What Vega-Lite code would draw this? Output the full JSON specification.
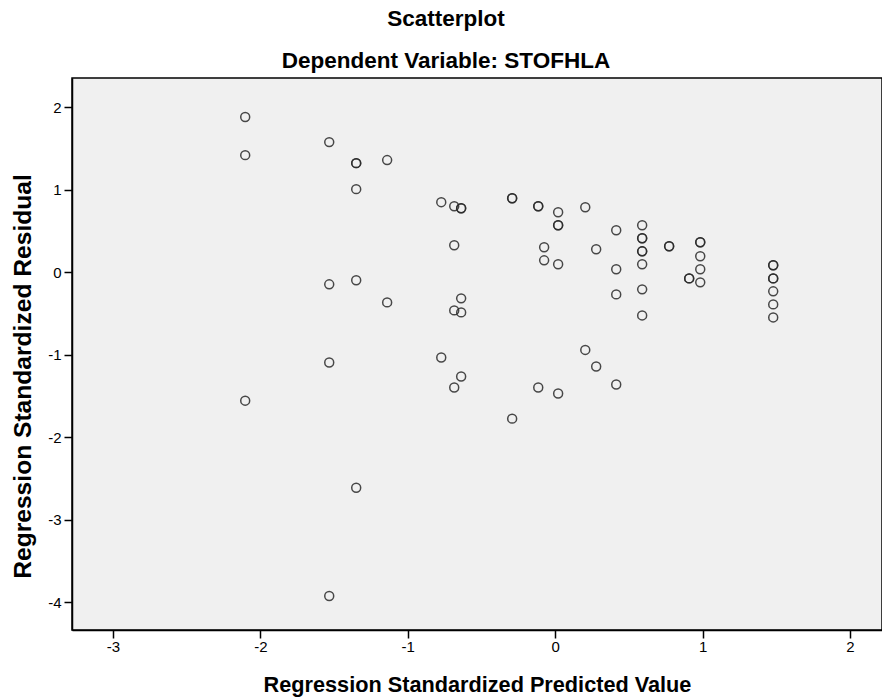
{
  "$schema": "https://vega.github.io/schema/vega-lite/v6.json",
  "width": 810,
  "height": 552,
  "autosize": {"type": "none"},
  "padding": {"left": 72, "top": 78, "right": 0, "bottom": 70},
  "background": "#ffffff",
  "title": {
    "text": "Scatterplot",
    "subtitle": "Dependent Variable: STOFHLA",
    "anchor": "middle",
    "dx": -31,
    "offset": 6,
    "font": "Liberation Sans, Arial",
    "fontSize": 22.5,
    "fontWeight": "bold",
    "color": "#000000",
    "subtitleFont": "Liberation Sans, Arial",
    "subtitleFontSize": 22.5,
    "subtitleFontWeight": "bold",
    "subtitleColor": "#000000",
    "subtitlePadding": 19
  },
  "config": {
    "view": {"fill": "#f0f0f0", "stroke": "#000000", "strokeWidth": 1.5},
    "axis": {
      "grid": false,
      "domainColor": "#000000",
      "domainWidth": 1.5,
      "tickColor": "#000000",
      "tickSize": 8,
      "tickWidth": 1.5,
      "labelColor": "#000000",
      "labelFont": "Liberation Sans, Arial",
      "labelFontSize": 15,
      "labelExpr": "datum.value < 0 ? '-' + abs(datum.value) : '' + datum.value",
      "titleColor": "#000000",
      "titleFont": "Liberation Sans, Arial",
      "titleFontWeight": "bold"
    }
  },
  "data": {
    "values": [
      {"x": -2.103, "y": 1.879}, {"x": -2.103, "y": 1.417}, {"x": -2.103, "y": -1.559},
      {"x": -1.533, "y": 1.575}, {"x": -1.533, "y": -0.149}, {"x": -1.533, "y": -1.096}, {"x": -1.533, "y": -3.927},
      {"x": -1.35, "y": 1.32}, {"x": -1.35, "y": 1.32}, {"x": -1.35, "y": 1.005}, {"x": -1.35, "y": -0.1}, {"x": -1.35, "y": -2.615},
      {"x": -1.14, "y": 1.357}, {"x": -1.14, "y": -0.368},
      {"x": -0.773, "y": 0.847}, {"x": -0.773, "y": -1.036},
      {"x": -0.685, "y": 0.798}, {"x": -0.638, "y": 0.774}, {"x": -0.638, "y": 0.774},
      {"x": -0.685, "y": 0.324}, {"x": -0.638, "y": -0.319}, {"x": -0.685, "y": -0.465}, {"x": -0.638, "y": -0.489},
      {"x": -0.638, "y": -1.267}, {"x": -0.685, "y": -1.4},
      {"x": -0.292, "y": 0.895}, {"x": -0.292, "y": 0.895}, {"x": -0.292, "y": -1.777},
      {"x": -0.115, "y": 0.798}, {"x": -0.115, "y": 0.798}, {"x": -0.115, "y": -1.4},
      {"x": 0.02, "y": 0.725}, {"x": 0.02, "y": 0.567}, {"x": 0.02, "y": 0.567},
      {"x": -0.075, "y": 0.3}, {"x": -0.075, "y": 0.142}, {"x": 0.02, "y": 0.094}, {"x": 0.02, "y": -1.473},
      {"x": 0.204, "y": 0.786}, {"x": 0.204, "y": -0.944},
      {"x": 0.278, "y": 0.276}, {"x": 0.278, "y": -1.145},
      {"x": 0.414, "y": 0.506}, {"x": 0.414, "y": 0.033}, {"x": 0.414, "y": -0.271}, {"x": 0.414, "y": -1.364},
      {"x": 0.59, "y": 0.567}, {"x": 0.59, "y": 0.409}, {"x": 0.59, "y": 0.409}, {"x": 0.59, "y": 0.251}, {"x": 0.59, "y": 0.251},
      {"x": 0.59, "y": 0.094}, {"x": 0.59, "y": -0.21}, {"x": 0.59, "y": -0.526},
      {"x": 0.773, "y": 0.312}, {"x": 0.773, "y": 0.312},
      {"x": 0.909, "y": -0.077}, {"x": 0.909, "y": -0.077},
      {"x": 0.984, "y": 0.361}, {"x": 0.984, "y": 0.361}, {"x": 0.984, "y": 0.191}, {"x": 0.984, "y": 0.033}, {"x": 0.984, "y": -0.125},
      {"x": 1.479, "y": 0.082}, {"x": 1.479, "y": 0.082}, {"x": 1.479, "y": -0.077}, {"x": 1.479, "y": -0.077},
      {"x": 1.479, "y": -0.234}, {"x": 1.479, "y": -0.392}, {"x": 1.479, "y": -0.55}
    ]
  },
  "mark": {"type": "point", "shape": "circle", "filled": false, "size": 80, "stroke": "#2a2a2a", "strokeWidth": 1.5, "opacity": 0.85},
  "encoding": {
    "x": {
      "field": "x",
      "type": "quantitative",
      "scale": {"domain": [-3.278, 2.217], "nice": false, "zero": false},
      "axis": {"values": [-3, -2, -1, 0, 1, 2], "title": "Regression Standardized Predicted Value", "titleFontSize": 21.7, "labelPadding": 1, "titlePadding": 20}
    },
    "y": {
      "field": "y",
      "type": "quantitative",
      "scale": {"domain": [-4.339, 2.352], "nice": false, "zero": false},
      "axis": {"values": [-4, -3, -2, -1, 0, 1, 2], "title": "Regression Standardized Residual", "titleFontSize": 24.6, "titleY": 298, "labelPadding": 3, "titlePadding": 12}
    }
  }
}
